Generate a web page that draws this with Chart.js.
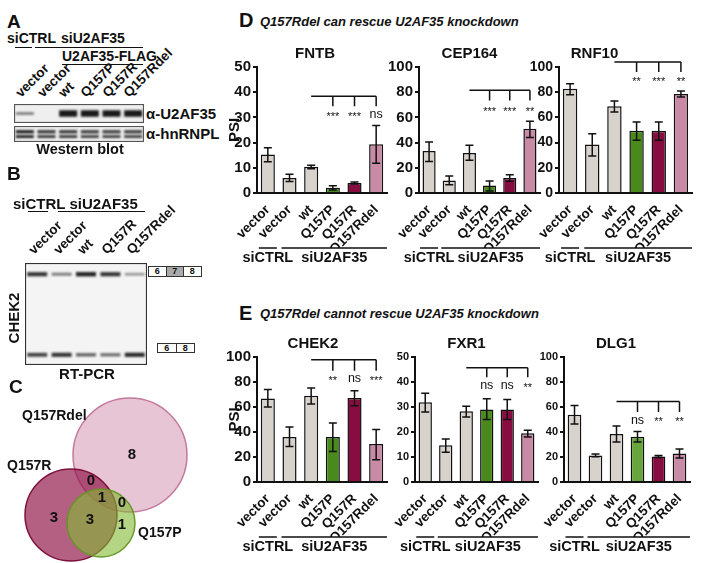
<!DOCTYPE html>
<html>
<head>
<meta charset="utf-8">
<script src="https://cdn.jsdelivr.net/npm/chart.js@4.4.0/dist/chart.umd.min.js"></script>
<style>
  body { margin: 0; width: 705px; height: 563px; position: relative; background: #fff; overflow: hidden;
         font-family: "Liberation Sans", Arial, sans-serif; color: #111; }
  canvas { position: absolute; }
  .t { position: absolute; font-weight: bold; white-space: nowrap; line-height: 1; }
  .ln { position: absolute; height: 0; border-top: 1.5px solid #111; }
  .exon { position: absolute; display: flex; border: 1px solid #333; background: #fff; }
  .exon span { display: block; text-align: center; font-size: 9px; font-weight: bold; border-left: 1px solid #333; }
  .exon span:first-child { border-left: 0; }
</style>
</head>
<body>
<script>
// ---- data ----
const lanes = ['vector', 'vector', 'wt', 'Q157P', 'Q157R', 'Q157Rdel'];
const groups = ['siCTRL', 'siU2AF35'];

const fntbPsi  = [15.3, 6.0, 10.4, 2.1, 4.0, 19.3];
const fntbLow  = [12.4, 4.6, 9.6, 1.2, 3.6, 11.8];
const fntbHigh = [18.0, 7.4, 11.0, 2.9, 4.4, 26.8];
const fntbSig  = ['***', '***', 'ns'];

const cep164Psi  = [33.3, 10.0, 31.7, 6.0, 12.0, 51.0];
const cep164Low  = [25.0, 6.6, 26.0, 1.6, 9.3, 44.0];
const cep164High = [40.5, 13.5, 37.8, 9.5, 14.5, 57.0];
const cep164Sig  = ['***', '***', '**'];

const rnf10Psi  = [82.8, 38.4, 68.8, 49.5, 49.5, 78.6];
const rnf10Low  = [78.0, 29.4, 64.3, 41.8, 41.8, 76.2];
const rnf10High = [86.8, 47.0, 73.0, 56.3, 56.3, 81.0];
const rnf10Sig  = ['**', '***', '**'];

const chek2Psi  = [66.9, 36.0, 69.0, 36.0, 67.2, 30.4];
const chek2Low  = [60.0, 28.5, 62.4, 24.5, 61.0, 17.9];
const chek2High = [74.0, 44.0, 75.2, 47.2, 73.0, 42.0];
const chek2Sig  = ['**', 'ns', '***'];

const fxr1Psi  = [31.9, 14.7, 28.3, 29.0, 29.0, 19.5];
const fxr1Low  = [28.0, 11.9, 26.0, 25.0, 25.0, 18.0];
const fxr1High = [35.5, 17.2, 30.3, 33.3, 33.0, 20.7];
const fxr1Sig  = ['ns', 'ns', '**'];

const dlg1Psi  = [53.9, 21.3, 38.4, 36.3, 20.5, 22.9];
const dlg1Low  = [46.4, 20.3, 32.0, 32.0, 19.7, 19.2];
const dlg1High = [61.3, 22.4, 44.8, 40.5, 21.3, 26.4];
const dlg1Sig  = ['ns', '**', '**'];

// western blot / RT-PCR band intensities (0..1)
const wbLanes = ['vector', 'vector', 'wt', 'Q157P', 'Q157R', 'Q157Rdel'];
const wbU2af35 = [0.45, 0, 1, 1, 1, 1];
const wbHnrnpl = [1, 0.85, 0.85, 0.8, 0.8, 0.8];
const gelLanes = ['vector', 'vector', 'wt', 'Q157R', 'Q157Rdel'];
const gelIncluded = [0.85, 0.4, 0.95, 0.85, 0.25];
const gelSkipped  = [0.75, 0.85, 0.55, 0.5, 0.9];

// Venn: events per region
const vennSets = ['Q157Rdel', 'Q157R', 'Q157P'];
const vennCounts = [8, 0, 1, 0, 3, 3, 1];

// ---- styling ----
const FONT = '"Liberation Sans", Arial, sans-serif';
Chart.defaults.font.family = FONT;
Chart.defaults.color = '#111';

const GRAY = '#d8d2cc', GREEN = '#4a8a1c', MAROON = '#870c3f', PINK = '#c98aa6';
const barColors = [GRAY, GRAY, GRAY, GREEN, MAROON, PINK];
const barColorsLight = [GRAY, GRAY, GRAY, '#68a53a', MAROON, PINK];

function label(text, x, y, size, o = {}) {
  const d = document.createElement('div');
  d.className = 't';
  d.textContent = text;
  d.style.fontSize = size + 'px';
  d.style.left = x + 'px';
  d.style.top = y + 'px';
  const ax = o.anchor === 'center' ? '-50%' : o.anchor === 'right' ? '-100%' : '0';
  let tr = 'translate(' + ax + ',-50%)';
  if (o.rot) tr += ' rotate(' + o.rot + 'deg)';
  d.style.transform = tr;
  if (o.origin) d.style.transformOrigin = o.origin;
  if (o.italic) d.style.fontStyle = 'italic';
  document.body.appendChild(d);
}
function hline(x1, x2, y) {
  const d = document.createElement('div');
  d.className = 'ln';
  d.style.left = x1 + 'px'; d.style.top = y + 'px'; d.style.width = (x2 - x1) + 'px';
  document.body.appendChild(d);
}
function exon(nums, x, y, cw, h, grey) {
  const d = document.createElement('div');
  d.className = 'exon';
  d.style.left = x + 'px'; d.style.top = y + 'px';
  nums.forEach(n => {
    const s = document.createElement('span');
    s.textContent = n;
    s.style.width = cw + 'px'; s.style.height = h + 'px'; s.style.lineHeight = h + 'px';
    if (n === grey) s.style.background = '#a9a9a9';
    d.appendChild(s);
  });
  document.body.appendChild(d);
}
function addCanvas(left, top, w, h) {
  const cv = document.createElement('canvas');
  cv.width = w; cv.height = h;
  cv.style.left = left + 'px'; cv.style.top = top + 'px';
  document.body.appendChild(cv);
  return cv;
}

// ---- plugins for the PSI bar charts ----
const errorBars = {
  id: 'errorBars',
  afterDatasetsDraw(chart, args, o) {
    const { ctx, scales: { x, y } } = chart;
    ctx.save();
    ctx.strokeStyle = '#111';
    ctx.lineWidth = 1.5;
    o.low.forEach((lo, i) => {
      const cx = x.getPixelForValue(i);
      const y1 = y.getPixelForValue(lo), y2 = y.getPixelForValue(o.high[i]);
      ctx.beginPath();
      ctx.moveTo(cx, y1); ctx.lineTo(cx, y2);
      ctx.moveTo(cx - 4, y1); ctx.lineTo(cx + 4, y1);
      ctx.moveTo(cx - 4, y2); ctx.lineTo(cx + 4, y2);
      ctx.stroke();
    });
    ctx.restore();
  }
};

const sigBracket = {
  id: 'sigBracket',
  afterDraw(chart, args, o) {
    const { ctx, scales: { x, y } } = chart;
    const yTop = y.getPixelForValue(o.top), yEnd = y.getPixelForValue(o.tickEnd), yLab = y.getPixelForValue(o.labelAt);
    const xs = o.to.map(i => x.getPixelForValue(i));
    ctx.save();
    ctx.strokeStyle = '#111';
    ctx.lineWidth = 1.5;
    ctx.beginPath();
    ctx.moveTo(x.getPixelForValue(o.from), yTop);
    ctx.lineTo(xs[xs.length - 1], yTop);
    xs.forEach(px => { ctx.moveTo(px, yTop); ctx.lineTo(px, yEnd); });
    ctx.stroke();
    ctx.fillStyle = '#111';
    ctx.textAlign = 'center';
    ctx.textBaseline = 'middle';
    o.labels.forEach((s, i) => {
      ctx.font = s === 'ns' ? '12.5px ' + FONT : '11px ' + FONT;
      ctx.fillText(s, xs[i], s === 'ns' ? yLab : yLab + 2);
    });
    ctx.restore();
  }
};

const groupLabels = {
  id: 'groupLabels',
  afterDraw(chart) {
    const { ctx, chartArea: a, scales: { x } } = chart;
    const yl = a.bottom + 55;
    const x0 = x.getPixelForValue(0), x1 = x.getPixelForValue(1);
    ctx.save();
    ctx.strokeStyle = '#111';
    ctx.lineWidth = 1.5;
    ctx.beginPath();
    ctx.moveTo(x0 - 9, yl); ctx.lineTo(x0 + 9, yl);
    ctx.moveTo(x1 - 8, yl); ctx.lineTo(a.right, yl);
    ctx.stroke();
    ctx.fillStyle = '#111';
    ctx.font = 'bold 14.5px ' + FONT;
    ctx.textAlign = 'center';
    ctx.textBaseline = 'middle';
    ctx.fillText(groups[0], x0, yl + 10);
    ctx.fillText(groups[1], (x1 - 8 + a.right) / 2, yl + 10);
    ctx.restore();
  }
};

const geneTitle = {
  id: 'geneTitle',
  afterDraw(chart, args, o) {
    const { ctx, chartArea: a } = chart;
    ctx.save();
    ctx.fillStyle = '#111';
    ctx.font = 'bold 15px ' + FONT;
    ctx.textAlign = 'center';
    ctx.textBaseline = 'middle';
    ctx.fillText(o.text, (a.left + a.right) / 2 + o.dx, a.top + o.dy);
    ctx.restore();
  }
};

function psiChart(box, c) {
  const axisW = c.psiTitle ? 33 : 31;
  const left = box.l - axisW, top = box.t - 27;
  const cv = addCanvas(left, top, box.r - left + 8, box.b - top + 75);
  new Chart(cv, {
    type: 'bar',
    data: {
      labels: lanes,
      datasets: [{
        data: c.psi,
        backgroundColor: c.colors || barColors,
        borderColor: '#111',
        borderWidth: 1.5,
        barPercentage: 0.65,
        categoryPercentage: 1
      }]
    },
    options: {
      responsive: false,
      animation: false,
      events: [],
      layout: { padding: { top: 27, bottom: 20, right: 8, left: 0 } },
      plugins: {
        legend: { display: false },
        tooltip: { enabled: false },
        errorBars: { low: c.low, high: c.high },
        sigBracket: { from: 2, to: [3, 4, 5], top: c.br[0], tickEnd: c.br[1], labelAt: c.br[2], labels: c.sig },
        geneTitle: { text: c.title, dx: c.dx, dy: -13 }
      },
      scales: {
        x: {
          grid: { display: false },
          border: { color: '#111', width: 2 },
          ticks: { color: '#111', font: { size: 13.5, weight: 'bold' }, minRotation: 45, maxRotation: 45, padding: 1, autoSkip: false },
          afterFit: s => { s.height = 55; }
        },
        y: {
          min: 0,
          max: c.max,
          ticks: { stepSize: c.max / 5, color: '#111', font: { size: c.tickSize, weight: 'bold' }, padding: 2 },
          grid: { drawOnChartArea: false, color: '#111', lineWidth: 2, tickLength: 4 },
          border: { color: '#111', width: 2 },
          title: { display: !!c.psiTitle, text: 'PSI', color: '#111', font: { size: 15, weight: 'bold' }, padding: { top: 2, bottom: 0 } },
          afterFit: s => { s.width = axisW; }
        }
      }
    },
    plugins: [errorBars, sigBracket, groupLabels, geneTitle]
  });
}

// ---- panel D ----
psiChart({ l: 257, r: 387, t: 67, b: 193 }, { title: 'FNTB', dx: -7, psi: fntbPsi, low: fntbLow, high: fntbHigh, sig: fntbSig, br: [38.4, 34.4, 31], max: 50, tickSize: 15, psiTitle: true });
psiChart({ l: 419, r: 540, t: 67, b: 193 }, { title: 'CEP164', dx: -10, psi: cep164Psi, low: cep164Low, high: cep164High, sig: cep164Sig, br: [81.5, 73.5, 66], max: 100, tickSize: 15 });
psiChart({ l: 559, r: 692, t: 67, b: 193 }, { title: 'RNF10', dx: -31, psi: rnf10Psi, low: rnf10Low, high: rnf10High, sig: rnf10Sig, br: [104, 96, 89.4], max: 100, tickSize: 14 });
// ---- panel E ----
psiChart({ l: 257, r: 387, t: 357, b: 482 }, { title: 'CHEK2', dx: -9, psi: chek2Psi, low: chek2Low, high: chek2High, sig: chek2Sig, br: [97.9, 89, 82.7], max: 100, tickSize: 15, psiTitle: true });
psiChart({ l: 415, r: 538, t: 357, b: 482 }, { title: 'FXR1', dx: -10, psi: fxr1Psi, low: fxr1Low, high: fxr1High, sig: fxr1Sig, br: [45.7, 41.9, 38.5], max: 50, tickSize: 11 });
psiChart({ l: 564, r: 690, t: 357, b: 482 }, { title: 'DLG1', dx: -11, psi: dlg1Psi, low: dlg1Low, high: dlg1High, sig: dlg1Sig, br: [64.5, 56, 49.3], max: 100, tickSize: 11, colors: barColorsLight });

label('D', 239, 20, 20);
label('Q157Rdel can rescue U2AF35 knockdown', 260, 21, 13, { italic: true });
label('E', 239, 313, 20);
label('Q157Rdel cannot rescue U2AF35 knockdown', 260, 313, 13, { italic: true });

// ---- blots (A, B) ----
const frame = {
  id: 'frame',
  beforeDraw(chart, args, o) {
    const { ctx, chartArea: a } = chart;
    ctx.save();
    ctx.fillStyle = o.bg;
    ctx.fillRect(a.left, a.top, a.width, a.height);
    ctx.restore();
  },
  beforeDatasetsDraw(chart) { chart.ctx.save(); chart.ctx.filter = 'blur(0.9px)'; },
  afterDatasetsDraw(chart) { chart.ctx.restore(); },
  afterDraw(chart, args, o) {
    const { ctx, chartArea: a } = chart;
    ctx.save();
    ctx.strokeStyle = o.edge;
    ctx.lineWidth = 1.2;
    ctx.strokeRect(a.left + 0.5, a.top + 0.5, a.width - 1, a.height - 1);
    ctx.restore();
  }
};

function bandPoints(vals, row, thick) {
  return vals.map((v, i) => ({ x: i + 1, y: row, v, w: thick(v) }));
}

function blot(x, y, w, h, nLanes, rows, bg, edge, halfWidth) {
  const cv = addCanvas(x, y, w, h);
  new Chart(cv, {
    type: 'scatter',
    data: {
      datasets: rows.map(pts => ({
        data: pts.filter(p => p.v > 0),
        pointStyle: 'line',
        pointRadius: halfWidth,
        pointHoverRadius: halfWidth,
        borderColor: ctx => 'rgba(25,25,25,' + (ctx.raw ? 0.25 + 0.75 * ctx.raw.v : 1) + ')',
        pointBorderWidth: ctx => (ctx.raw ? ctx.raw.w : 2),
        clip: false
      }))
    },
    options: {
      responsive: false,
      animation: false,
      events: [],
      layout: { padding: 0, autoPadding: false },
      plugins: { legend: { display: false }, tooltip: { enabled: false }, frame: { bg, edge } },
      scales: {
        x: { type: 'linear', min: 0.5, max: nLanes + 0.5, display: false },
        y: { min: 0, max: 1, reverse: true, display: false }
      }
    },
    plugins: [frame]
  });
}

// A: western blot
label('A', 7, 21, 19);
label('siCTRL', 7, 38, 14);
label('siU2AF35', 61, 38, 14);
hline(15, 32, 47);
hline(35, 143, 47);
label('U2AF35-FLAG', 62, 56, 14);
hline(62, 143, 64);
const wbLeft = 14, wbW = 130;
wbLanes.forEach((s, i) => {
  const lx = wbLeft + (i + 0.5) * wbW / wbLanes.length;
  label(s, lx - 7, 95, 13.5, { rot: -45, origin: '0 50%' });
});
blot(wbLeft, 104, wbW, 19, 6, [bandPoints(wbU2af35, 0.5, v => (v < 0.6 ? 2.5 : 6.5))], '#efefef', '#555', 9);
blot(wbLeft, 126, wbW, 16, 6, [bandPoints(wbHnrnpl, 0.36, v => 3.2), bandPoints(wbHnrnpl, 0.66, v => 2.8)], '#efefef', '#555', 9);
label('α-U2AF35', 146, 113, 15);
label('α-hnRNPL', 146, 133, 15);
label('Western blot', 80, 149, 14.5, { anchor: 'center' });

// B: RT-PCR gel
label('B', 7, 173, 19);
label('siCTRL siU2AF35', 13, 203, 15);
hline(28, 48, 211);
hline(58, 145, 211);
const gelLeft = 25, gelW = 122;
gelLanes.forEach((s, i) => {
  const lx = gelLeft + (i + 0.5) * gelW / gelLanes.length;
  label(s, lx - 6, 252, 13.5, { rot: -45, origin: '0 50%' });
});
blot(gelLeft, 263, gelW, 102, 5, [bandPoints(gelIncluded, 0.11, v => 2 + 2.5 * v), bandPoints(gelSkipped, 0.9, v => 2 + 2.5 * v)], '#f4f4f4', '#333', 10);
exon(['6', '7', '8'], 148, 266, 16.5, 9, '7');
exon(['6', '8'], 157, 343, 17.5, 8, null);
label('CHEK2', 13, 318, 15, { anchor: 'center', rot: -90 });
label('RT-PCR', 87, 373, 15, { anchor: 'center' });

// C: Venn diagram
label('C', 9, 386, 19);
const vennCv = addCanvas(0, 385, 225, 178);
const vennCircles = [
  { x: 130, y: 70, r: 57 },   // Q157Rdel
  { x: 71, y: 130, r: 46 },   // Q157R
  { x: 101, y: 138, r: 34 }   // Q157P
];
const vennSpots = [[132, 70], [91, 96], [102, 113], [122, 118], [54, 133], [90, 135], [122, 140]];
new Chart(vennCv, {
  type: 'bubble',
  data: {
    datasets: [{
      data: vennCircles,
      backgroundColor: ['rgba(208,140,172,0.5)', 'rgba(145,20,72,0.68)', 'rgba(130,185,50,0.6)'],
      borderColor: ['rgba(190,110,150,0.9)', 'rgba(120,10,55,0.95)', 'rgba(100,150,35,0.95)'],
      borderWidth: 1.5,
      clip: false
    }]
  },
  options: {
    responsive: false,
    animation: false,
    events: [],
    layout: { padding: 0, autoPadding: false },
    plugins: { legend: { display: false }, tooltip: { enabled: false } },
    scales: {
      x: { type: 'linear', min: 0, max: 225, display: false },
      y: { min: 0, max: 178, reverse: true, display: false }
    }
  },
  plugins: [{
    id: 'vennCounts',
    afterDraw(chart) {
      const { ctx, scales: { x, y } } = chart;
      ctx.save();
      ctx.fillStyle = '#111';
      ctx.font = 'bold 15px ' + FONT;
      ctx.textAlign = 'center';
      ctx.textBaseline = 'middle';
      vennCounts.forEach((n, i) => ctx.fillText(n, x.getPixelForValue(vennSpots[i][0]), y.getPixelForValue(vennSpots[i][1])));
      ctx.restore();
    }
  }]
});
label(vennSets[0], 22, 415, 14);
label(vennSets[1], 7, 465, 14);
label(vennSets[2], 138, 532, 14);
</script>
</body>
</html>
